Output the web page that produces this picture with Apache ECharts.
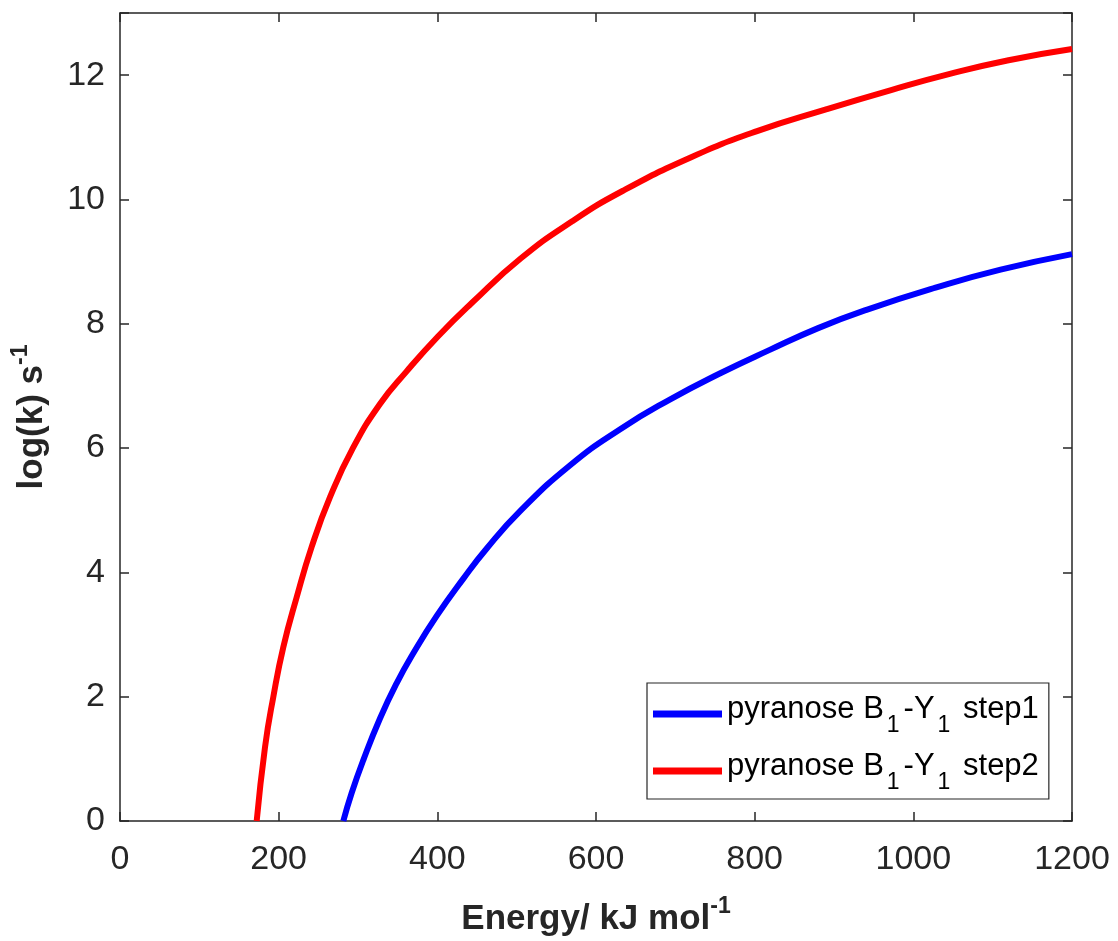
<!DOCTYPE html>
<html>
<head>
<meta charset="utf-8">
<script src="https://cdn.jsdelivr.net/npm/echarts@6/dist/echarts.min.js"></script>
<style>
  html, body { margin: 0; padding: 0; background: #fff; }
  #chart { width: 1118px; height: 941px; }
</style>
</head>
<body>
<div id="chart"></div>
<script>
// values
var step1Energy = [281.5, 292, 306.7, 327.7, 348.8, 369.7, 399.2, 432.8, 462, 504, 567, 630, 693, 756, 819, 880, 940, 1028, 1110, 1200];
var step1LogK   = [0, 0.45, 0.98, 1.65, 2.22, 2.7, 3.3, 3.9, 4.38, 4.98, 5.72, 6.3, 6.78, 7.2, 7.58, 7.93, 8.22, 8.58, 8.87, 9.12];

var step2Energy = [172.3, 182.8, 193.3, 205.9, 222.7, 241.6, 264.7, 294, 327.7, 361, 401, 443, 505, 570, 634, 720, 803, 890, 972, 1046, 1120, 1200];
var step2LogK   = [0, 1.19, 2.0, 2.8, 3.6, 4.41, 5.21, 6.01, 6.71, 7.23, 7.8, 8.33, 9.05, 9.65, 10.14, 10.68, 11.1, 11.45, 11.76, 12.02, 12.24, 12.42];

var xTicks = [0, 200, 400, 600, 800, 1000, 1200];
var yTicks = [0, 2, 4, 6, 8, 10, 12];

var seriesNames = ['step1', 'step2'];

function pairs(xs, ys) {
  var out = [];
  for (var i = 0; i < xs.length; i++) out.push([xs[i], ys[i]]);
  return out;
}

var axisColor = '#262626';
var fontFam = '"Liberation Sans", Arial, Helvetica, sans-serif';

var chart = echarts.init(document.getElementById('chart'), null, { renderer: 'canvas' });

var baseX = {
  type: 'value',
  min: xTicks[0],
  max: xTicks[xTicks.length - 1],
  interval: 200,
  splitLine: { show: false },
  axisLine: { show: true, onZero: false, lineStyle: { color: axisColor, width: 1.5 } },
  axisTick: { show: true, inside: true, length: 9, lineStyle: { color: axisColor, width: 1.5 } }
};
var baseY = {
  type: 'value',
  min: 0,
  max: 13,
  interval: 2,
  splitLine: { show: false },
  axisLine: { show: true, onZero: false, lineStyle: { color: axisColor, width: 1.5 } },
  axisTick: { show: true, inside: true, length: 9, lineStyle: { color: axisColor, width: 1.5 } }
};

chart.setOption({
  backgroundColor: '#fff',
  animation: false,
  grid: { left: 120, right: 46, top: 13, bottom: 120, containLabel: false, outerBoundsMode: 'none' },
  legend: {
    orient: 'vertical',
    left: 647,
    top: 683,
    padding: [8, 10, 5, 6],
    itemGap: 11,
    itemWidth: 69,
    itemHeight: 7,
    icon: 'rect',
    backgroundColor: '#fff',
    borderColor: axisColor,
    borderWidth: 1.2,
    borderRadius: 0,
    data: seriesNames,
    formatter: function(name) {
      var n = name === 'step1' ? '1' : '2';
      return '{t|pyranose B}{s|1}{t|-Y}{s|1}{t| step' + n + '}';
    },
    textStyle: {
      color: '#000',
      fontSize: 31,
      fontFamily: fontFam,
      rich: {
        t: { fontSize: 31, fontFamily: fontFam, color: '#000', lineHeight: 32, padding: [0, 0, 9, 0] },
        s: { fontSize: 23, fontFamily: fontFam, color: '#000', lineHeight: 18, padding: [23, 4, 0, 3] }
      }
    }
  },
  xAxis: [
    Object.assign({}, baseX, {
      position: 'bottom',
      name: '{b|Energy/ kJ mol}{p|-1}',
      nameLocation: 'middle',
      nameGap: 76,
      nameTextStyle: {
        rich: {
          b: { fontSize: 35, fontWeight: 'bold', fontFamily: fontFam, color: axisColor, lineHeight: 44 },
          p: { fontSize: 23, fontWeight: 'bold', fontFamily: fontFam, color: axisColor, lineHeight: 44, padding: [0, 0, 24, 0] }
        }
      },
      axisLabel: {
        show: true, margin: 22, fontSize: 34, fontFamily: fontFam, color: axisColor,
        formatter: function(v) { return String(v); }
      }
    }),
    Object.assign({}, baseX, {
      position: 'top',
      axisLabel: { show: false }
    })
  ],
  yAxis: [
    Object.assign({}, baseY, {
      position: 'left',
      name: '{b|log(k) s}{p|-1}',
      nameLocation: 'middle',
      nameGap: 58,
      nameRotate: 90,
      nameTextStyle: {
        rich: {
          b: { fontSize: 35, fontWeight: 'bold', fontFamily: fontFam, color: axisColor, lineHeight: 44 },
          p: { fontSize: 23, fontWeight: 'bold', fontFamily: fontFam, color: axisColor, lineHeight: 44, padding: [0, 0, 24, 0] }
        }
      },
      axisLabel: {
        show: true, margin: 15, fontSize: 34, fontFamily: fontFam, color: axisColor,
        formatter: function(v) { return yTicks.indexOf(v) >= 0 ? String(v) : ''; }
      }
    }),
    Object.assign({}, baseY, {
      position: 'right',
      axisLabel: { show: false }
    })
  ],
  series: [
    {
      name: 'step1',
      type: 'line',
      xAxisIndex: 0,
      yAxisIndex: 0,
      data: pairs(step1Energy, step1LogK),
      smooth: 0.5,
      showSymbol: false,
      symbol: 'none',
      lineStyle: { color: '#0000ff', width: 6 },
      itemStyle: { color: '#0000ff' }
    },
    {
      name: 'step2',
      type: 'line',
      xAxisIndex: 0,
      yAxisIndex: 0,
      data: pairs(step2Energy, step2LogK),
      smooth: 0.5,
      showSymbol: false,
      symbol: 'none',
      lineStyle: { color: '#ff0000', width: 6 },
      itemStyle: { color: '#ff0000' }
    }
  ]
});
</script>
</body>
</html>
